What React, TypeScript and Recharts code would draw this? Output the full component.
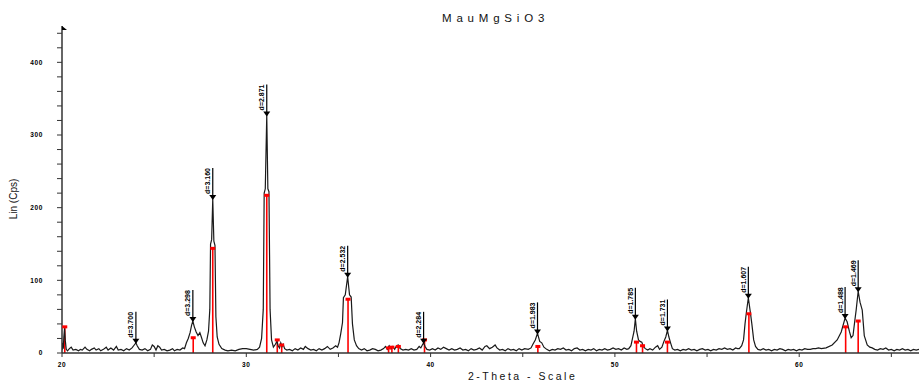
import { ComposedChart, Line, Scatter, XAxis, YAxis, ReferenceLine } from "recharts";

// measured scan: [2-theta, counts]
const scan: [number, number][] = [
  [20.0, 4], [20.03, 14], [20.07, 6], [20.1, 22], [20.14, 34], [20.18, 17], [20.23, 5], [20.3, 3],
  [20.4, 6], [20.5, 8], [20.6, 4], [20.75, 5], [20.9, 3], [21.0, 5], [21.1, 4], [21.25, 8],
  [21.35, 5], [21.5, 3], [21.6, 5], [21.75, 7], [21.85, 4], [22.0, 6], [22.1, 3], [22.25, 5],
  [22.4, 8], [22.5, 4], [22.65, 7], [22.8, 4], [22.95, 9], [23.05, 4], [23.2, 5], [23.35, 3],
  [23.5, 6], [23.65, 4], [23.8, 7], [23.92, 11], [24.01, 14], [24.08, 10], [24.2, 5], [24.35, 4],
  [24.5, 6], [24.65, 3], [24.8, 5], [24.9, 11], [25.0, 9], [25.1, 4], [25.2, 10], [25.3, 8],
  [25.4, 4], [25.55, 5], [25.7, 3], [25.85, 4], [26.0, 6], [26.1, 3], [26.25, 5], [26.4, 4],
  [26.55, 7], [26.65, 6], [26.75, 14], [26.85, 20], [26.95, 28], [27.03, 38], [27.1, 44], [27.18, 36],
  [27.28, 29], [27.38, 24], [27.48, 28], [27.56, 22], [27.66, 14], [27.76, 10], [27.86, 18], [27.95, 30],
  [28.02, 60], [28.06, 150], [28.12, 156], [28.18, 212], [28.24, 154], [28.3, 148], [28.35, 50], [28.42, 22],
  [28.52, 12], [28.67, 6], [28.85, 4], [29.0, 3], [29.2, 4], [29.4, 3], [29.6, 5], [29.8, 6],
  [30.0, 6], [30.2, 5], [30.4, 4], [30.6, 5], [30.72, 8], [30.83, 20], [30.92, 60], [30.97, 220],
  [31.03, 226], [31.11, 327], [31.17, 226], [31.23, 222], [31.29, 60], [31.37, 18], [31.47, 8], [31.58, 12],
  [31.66, 16], [31.73, 10], [31.8, 7], [31.87, 14], [31.94, 9], [32.0, 12], [32.08, 6], [32.2, 4],
  [32.35, 5], [32.5, 3], [32.65, 6], [32.8, 4], [32.95, 7], [33.1, 5], [33.2, 9], [33.35, 6],
  [33.5, 4], [33.65, 5], [33.8, 3], [33.95, 6], [34.1, 4], [34.25, 6], [34.4, 9], [34.55, 5],
  [34.7, 7], [34.85, 10], [34.95, 8], [35.03, 14], [35.12, 26], [35.22, 42], [35.27, 76], [35.37, 80],
  [35.5, 105], [35.6, 80], [35.69, 77], [35.76, 40], [35.86, 18], [35.98, 10], [36.1, 6], [36.25, 4],
  [36.4, 6], [36.55, 3], [36.7, 4], [36.85, 6], [37.0, 5], [37.15, 3], [37.3, 4], [37.45, 6],
  [37.55, 9], [37.65, 5], [37.75, 10], [37.85, 6], [37.95, 9], [38.05, 5], [38.15, 10], [38.25, 11],
  [38.35, 6], [38.5, 4], [38.65, 5], [38.8, 4], [38.95, 6], [39.1, 4], [39.25, 5], [39.38, 9],
  [39.47, 7], [39.55, 11], [39.62, 14], [39.7, 9], [39.8, 5], [39.95, 4], [40.1, 6], [40.25, 4],
  [40.4, 7], [40.55, 5], [40.7, 8], [40.85, 6], [41.0, 4], [41.15, 6], [41.3, 4], [41.45, 5],
  [41.6, 7], [41.75, 4], [41.9, 5], [42.05, 3], [42.2, 6], [42.35, 4], [42.5, 5], [42.65, 7],
  [42.8, 4], [42.95, 9], [43.05, 10], [43.2, 6], [43.35, 8], [43.5, 11], [43.6, 7], [43.75, 4],
  [43.9, 5], [44.05, 3], [44.2, 6], [44.35, 4], [44.5, 5], [44.65, 3], [44.8, 6], [44.95, 4],
  [45.1, 6], [45.3, 5], [45.45, 7], [45.55, 12], [45.68, 18], [45.8, 27], [45.92, 16], [46.03, 14],
  [46.15, 8], [46.3, 5], [46.45, 3], [46.6, 5], [46.75, 4], [46.9, 6], [47.05, 5], [47.2, 7],
  [47.35, 4], [47.5, 5], [47.65, 3], [47.8, 6], [47.95, 7], [48.1, 4], [48.25, 5], [48.4, 3],
  [48.55, 5], [48.7, 4], [48.85, 6], [49.0, 3], [49.15, 5], [49.3, 4], [49.45, 6], [49.6, 4],
  [49.75, 5], [49.9, 7], [50.05, 5], [50.2, 6], [50.35, 4], [50.5, 7], [50.65, 5], [50.75, 6],
  [50.87, 10], [50.97, 22], [51.04, 30], [51.11, 47], [51.18, 30], [51.28, 18], [51.36, 16], [51.46, 15],
  [51.54, 9], [51.65, 6], [51.78, 4], [51.9, 6], [52.05, 4], [52.2, 8], [52.32, 10], [52.42, 5],
  [52.55, 8], [52.66, 16], [52.76, 22], [52.85, 31], [52.93, 22], [53.02, 14], [53.12, 6], [53.25, 4],
  [53.4, 5], [53.55, 3], [53.7, 5], [53.85, 4], [54.0, 6], [54.15, 4], [54.3, 5], [54.45, 3],
  [54.6, 5], [54.75, 6], [54.9, 4], [55.05, 5], [55.2, 3], [55.35, 5], [55.5, 4], [55.65, 6],
  [55.8, 5], [55.95, 7], [56.1, 5], [56.25, 6], [56.4, 4], [56.55, 7], [56.65, 6], [56.75, 6],
  [56.88, 10], [56.98, 18], [57.06, 40], [57.13, 55], [57.24, 76], [57.35, 56], [57.43, 40], [57.53, 18],
  [57.63, 9], [57.76, 5], [57.9, 4], [58.05, 6], [58.2, 4], [58.35, 5], [58.5, 3], [58.65, 5],
  [58.8, 4], [58.95, 6], [59.1, 5], [59.25, 3], [59.4, 5], [59.55, 4], [59.7, 5], [59.85, 3],
  [60.0, 5], [60.15, 4], [60.3, 6], [60.45, 5], [60.6, 5], [60.75, 6], [60.9, 6], [61.05, 7],
  [61.2, 6], [61.46, 7], [61.79, 11], [62.06, 18], [62.28, 29], [62.49, 48], [62.6, 43], [62.72, 30],
  [62.82, 21], [62.92, 24], [63.02, 45], [63.09, 59], [63.2, 85], [63.3, 70], [63.42, 59], [63.53, 24],
  [63.69, 11], [63.83, 8], [63.96, 7], [64.1, 5], [64.25, 4], [64.4, 6], [64.55, 5], [64.7, 7],
  [64.85, 4], [65.0, 5], [65.15, 3], [65.3, 5], [65.45, 4], [65.6, 6], [65.75, 4], [65.9, 5],
  [66.05, 3], [66.2, 5], [66.35, 4], [66.5, 5],
];

// reference pattern sticks
const stickPos = [20.15, 27.12, 28.18, 31.11, 31.68, 31.92, 35.52, 37.72, 37.9, 38.25, 39.67, 45.82, 51.17, 51.5, 52.85, 57.27, 62.52, 63.2];
const stickCps = [36, 21, 144, 217, 18, 11, 74, 7, 8, 9, 18, 9, 15, 10, 15, 54, 36, 44];

// labelled peaks
const peakPos = [24.01, 27.1, 28.18, 31.11, 35.5, 39.62, 45.8, 51.11, 52.85, 57.24, 62.49, 63.2];
const peakCps = [14, 44, 212, 327, 105, 14, 27, 47, 31, 76, 48, 85];
const peakD = ["d=3.700", "d=3.298", "d=3.160", "d=2.871", "d=2.532", "d=2.284", "d=1.983", "d=1.785", "d=1.731", "d=1.607", "d=1.488", "d=1.469"];

const xTicks = [20, 25, 30, 35, 40, 45, 50, 55, 60, 65];
const yTicks = [0, 20, 40, 60, 80, 100, 120, 140, 160, 180, 200, 220, 240, 260, 280, 300, 320, 340, 360, 380, 400, 420, 440];

const traceData = scan.map(([t, c]) => ({ t, c }));
const stickData = stickPos.map((t, i) => ({ t, c: stickCps[i] }));
const peakData = peakPos.map((t, i) => ({ t, c: peakCps[i], d: peakD[i] }));

const tickFont = { fontSize: 6.5, fontWeight: 700, fill: "#000", fontFamily: "Liberation Sans, Arial, sans-serif", letterSpacing: 0.6 };

function PeakMark(props: any) {
  const { cx, cy, payload } = props;
  if (cx == null || cy == null) return null;
  return (
    <g>
      <line x1={cx} y1={cy} x2={cx} y2={cy - 31} stroke="#000" strokeWidth={1.2} />
      <path d={`M${cx - 3.5} ${cy - 4} L${cx + 3.5} ${cy - 4} L${cx} ${cy + 1} Z`} fill="#000" />
      <text
        x={cx - 2.5}
        y={cy - 5}
        transform={`rotate(-90 ${cx - 2.5} ${cy - 5})`}
        fontSize={7}
        fontWeight={700}
        fontFamily="Liberation Sans, Arial, sans-serif"
        fill="#000"
        textAnchor="start"
      >
        {payload.d}
      </text>
    </g>
  );
}

function StickTop(props: any) {
  const { cx, cy } = props;
  if (cx == null || cy == null) return null;
  return <rect x={cx - 2.5} y={cy - 1.5} width={5} height={3} fill="#ff0000" />;
}

export default function App() {
  return (
    <div style={{ position: "absolute", left: 0, top: 0, width: 919, height: 381, background: "#fff", overflow: "hidden" }}>
      <ComposedChart width={919} height={381} margin={{ top: 26, right: 0, bottom: 0, left: 2 }}>
        <XAxis
          type="number"
          dataKey="t"
          domain={[20, 66.5]}
          ticks={xTicks}
          tickFormatter={(v: number) => (v % 10 === 0 ? String(v) : "")}
          tickSize={4}
          tickMargin={5}
          height={28}
          allowDataOverflow
          axisLine={{ stroke: "#333", strokeWidth: 1.5 }}
          tickLine={{ stroke: "#333" }}
          tick={tickFont}
        />
        <YAxis
          type="number"
          domain={[0, 450]}
          ticks={yTicks}
          tickFormatter={(v: number) => (v % 100 === 0 ? String(v) : "")}
          tickSize={5}
          tickMargin={14}
          width={60}
          allowDataOverflow
          axisLine={{ stroke: "#333", strokeWidth: 1.5 }}
          tickLine={{ stroke: "#333" }}
          tick={tickFont}
        />
        {stickData.map((s) => (
          <ReferenceLine
            key={s.t}
            segment={[{ x: s.t, y: 0 }, { x: s.t, y: s.c }]}
            stroke="#ff0000"
            strokeWidth={1.6}
          />
        ))}
        <Line
          data={traceData}
          dataKey="c"
          type="linear"
          stroke="#1a1a1a"
          strokeWidth={1.2}
          dot={false}
          isAnimationActive={false}
        />
        <Scatter data={stickData} dataKey="c" shape={<StickTop />} isAnimationActive={false} />
        <Scatter data={peakData} dataKey="c" shape={<PeakMark />} isAnimationActive={false} />
      </ComposedChart>
      <svg width={919} height={381} style={{ position: "absolute", left: 0, top: 0, pointerEvents: "none" }}>
        <path d="M62 26 L67 30 L62 30 Z" fill="#000" />
        <text x={442} y={21.5} fontSize={11.5} letterSpacing={4.8} fontFamily="Liberation Sans, Arial, sans-serif" fill="#111">
          MauMgSiO3
        </text>
        <text
          x={14}
          y={199}
          transform="rotate(-90 14 199)"
          textAnchor="middle"
          dominantBaseline="middle"
          fontSize={10}
          fontFamily="Liberation Sans, Arial, sans-serif"
          fill="#111"
        >
          Lin (Cps)
        </text>
        <text x={468} y={380} fontSize={10.5} letterSpacing={2.5} fontFamily="Liberation Sans, Arial, sans-serif" fill="#111">
          2-Theta - Scale
        </text>
      </svg>
    </div>
  );
}
